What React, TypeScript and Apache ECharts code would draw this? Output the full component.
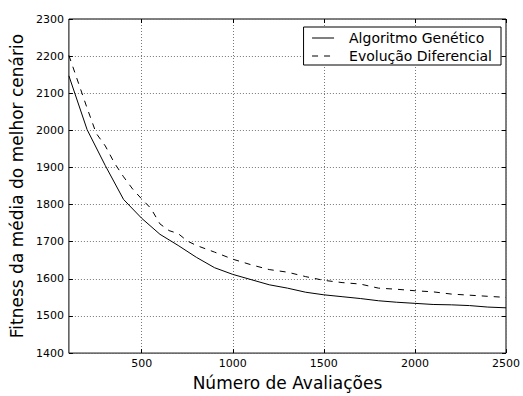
import React, { useEffect, useRef } from "react";
import * as echarts from "echarts";

const xTicks = [500, 1000, 1500, 2000, 2500];
const yTicks = [1400, 1500, 1600, 1700, 1800, 1900, 2000, 2100, 2200, 2300];

const agX = [100, 200, 300, 400, 500, 600, 700, 800, 900, 1000, 1100, 1200, 1300, 1400, 1500, 1600, 1700, 1800, 1900, 2000, 2100, 2200, 2300, 2400, 2500];
const agY = [2147, 2002, 1905, 1814, 1763, 1720, 1690, 1658, 1630, 1612, 1598, 1584, 1575, 1564, 1557, 1552, 1547, 1541, 1537, 1534, 1531, 1530, 1528, 1524, 1522];

const deX = [100, 200, 250, 300, 350, 400, 450, 500, 550, 600, 650, 700, 750, 800, 900, 1000, 1100, 1200, 1300, 1400, 1500, 1600, 1700, 1800, 1900, 2000, 2100, 2200, 2300, 2400, 2500];
const deY = [2202, 2060, 1992, 1958, 1912, 1875, 1842, 1815, 1790, 1748, 1730, 1722, 1702, 1690, 1672, 1653, 1638, 1625, 1618, 1606, 1596, 1590, 1586, 1575, 1572, 1568, 1565, 1559, 1556, 1553, 1550];

const seriesNames = ["Algoritmo Genético", "Evolução Diferencial"];

const FONT = "DejaVu Sans";

export default function App() {
  const ref = useRef<HTMLDivElement>(null);
  useEffect(() => {
    if (!ref.current) return;
    const chart = echarts.init(ref.current, null, { renderer: "svg" });
    const tickStyle = { show: true, inside: true, length: 4, lineStyle: { color: "#000", width: 1 } };
    chart.setOption({
      animation: false,
      backgroundColor: "#fff",
      grid: { left: 67, right: 16, top: 19, bottom: 37, show: true, borderColor: "#000", borderWidth: 1, backgroundColor: "transparent" },
      legend: {
        orient: "vertical",
        right: 22,
        top: 27,
        backgroundColor: "#fff",
        borderColor: "#000",
        borderWidth: 1,
        borderRadius: 0,
        padding: [4, 9, 2, 8],
        itemGap: 4,
        itemWidth: 22,
        itemHeight: 14,
        itemStyle: { color: "transparent", borderWidth: 0, opacity: 0 },
        lineStyle: { width: 1 },
        textStyle: { fontFamily: FONT, fontSize: 14, color: "#000", padding: [0, 0, 0, 10] },
        data: seriesNames,
      },
      xAxis: [
        {
          type: "value",
          min: 100,
          max: 2500,
          position: "bottom",
          axisLine: { show: false },
          axisTick: { ...tickStyle, customValues: xTicks },
          axisLabel: { customValues: xTicks, fontFamily: FONT, fontSize: 11, color: "#000", margin: 5, formatter: (v: number) => String(v) },
          splitLine: { show: true, lineStyle: { color: "#777", width: 1, type: [1, 2] } },
          name: "Número de Avaliações",
          nameLocation: "middle",
          nameGap: 19,
          nameTextStyle: { fontFamily: FONT, fontSize: 17, color: "#000" },
        },
        {
          type: "value",
          min: 100,
          max: 2500,
          position: "top",
          axisLine: { show: false },
          axisTick: { ...tickStyle, customValues: xTicks },
          axisLabel: { show: false, customValues: xTicks },
          splitLine: { show: false },
        },
      ],
      yAxis: [
        {
          type: "value",
          min: 1400,
          max: 2300,
          interval: 100,
          position: "left",
          axisLine: { show: false },
          axisTick: tickStyle,
          axisLabel: { fontFamily: FONT, fontSize: 11, color: "#000", margin: 5, formatter: (v: number) => String(v) },
          splitLine: { show: true, lineStyle: { color: "#777", width: 1, type: [1, 2] } },
          name: "Fitness da média do melhor cenário",
          nameLocation: "middle",
          nameGap: 40,
          nameTextStyle: { fontFamily: FONT, fontSize: 17, color: "#000" },
        },
        {
          type: "value",
          min: 1400,
          max: 2300,
          interval: 100,
          position: "right",
          axisLine: { show: false },
          axisTick: tickStyle,
          axisLabel: { show: false },
          splitLine: { show: false },
        },
      ],
      series: [
        {
          name: seriesNames[0],
          type: "line",
          xAxisIndex: 0,
          yAxisIndex: 0,
          data: agX.map((x, i) => [x, agY[i]]),
          symbol: "none",
          lineStyle: { color: "#000", width: 1, type: "solid" },
          itemStyle: { color: "#000" },
        },
        {
          name: seriesNames[1],
          type: "line",
          xAxisIndex: 0,
          yAxisIndex: 0,
          data: deX.map((x, i) => [x, deY[i]]),
          symbol: "none",
          lineStyle: { color: "#000", width: 1, type: [6, 6] },
          itemStyle: { color: "#000" },
        },
      ],
    });
    return () => chart.dispose();
  }, []);
  return <div ref={ref} style={{ width: 523, height: 396, position: "absolute", left: 0, top: 0 }} />;
}
